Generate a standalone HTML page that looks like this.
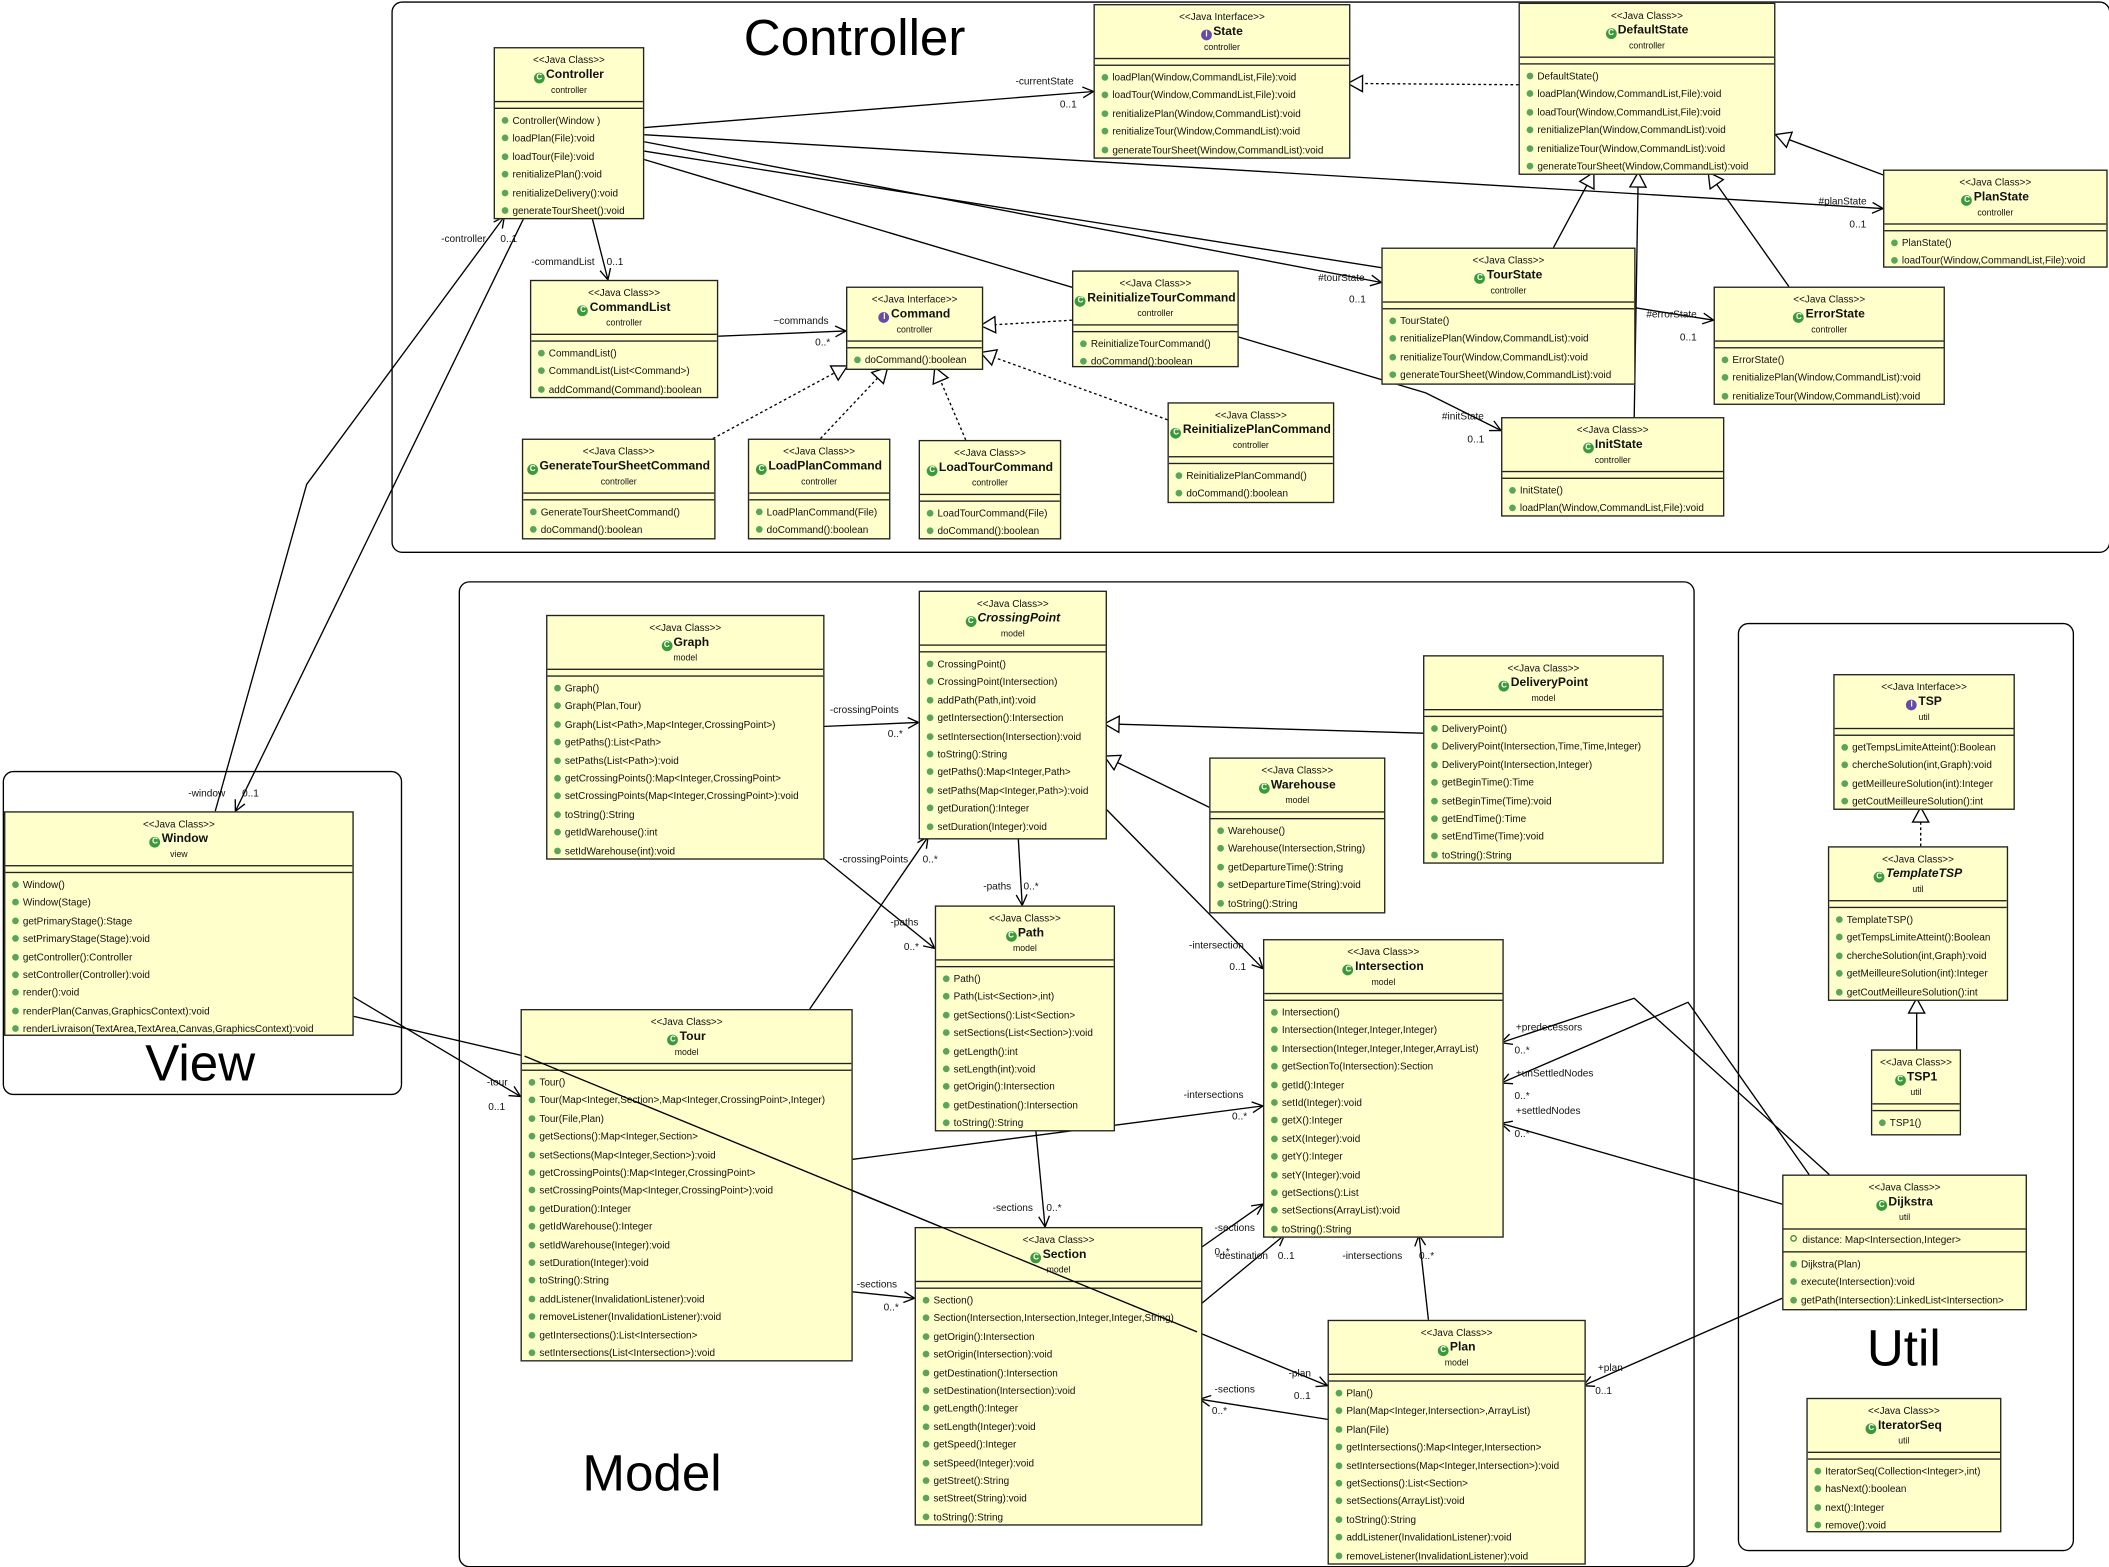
<!DOCTYPE html>
<html><head><meta charset="utf-8"><style>
html,body{margin:0;padding:0;background:#fff;overflow:hidden}
#w{position:absolute;left:0;top:0;width:1568px;height:1164px;transform:scale(1.34503,1.34536);transform-origin:0 0;font-family:"Liberation Sans",sans-serif}
.pk{position:absolute;border:1.3px solid #000;border-radius:8px;background:#fff}
.pl{position:absolute;font-size:38px;color:#000}
svg{position:absolute;left:0;top:0}
.c{position:absolute;background:#ffffcc;border:1px solid #222;font-size:7.4px;color:#111;overflow:hidden;white-space:nowrap}
.h{height:40px;text-align:center;border-bottom:1px solid #222;box-sizing:border-box;padding-top:3px;line-height:11px}
.h .n{font-size:9px;font-weight:bold}
.h .n.it{font-style:italic}
.h i{display:inline-block;width:8px;height:8px;border-radius:50%;background:#3a9a3a;color:#fff;font-size:6px;line-height:8px;font-style:normal;vertical-align:-1px;margin-right:1px}
.h i.f{background:#6a4aa8}
.h .p{font-size:6.5px}
.a{height:4px;border-bottom:1px solid #222}
.at{border-bottom:1px solid #222;padding:2px 0 2px 5px;line-height:12px}
.at div:before{content:"";display:inline-block;width:3px;height:3px;border:1px solid #3a8a3a;border-radius:50%;margin-right:4px;vertical-align:1px}
.m{padding:2px 0 0 5px;line-height:13.4px}
.m div:before{content:"";display:inline-block;width:5px;height:5px;border-radius:50%;background:#5aa55a;margin-right:3px;vertical-align:0}
.lb{font-size:7.5px;font-family:"Liberation Sans",sans-serif;fill:#111}
</style></head><body><div id="w">

<div class="pk" style="left:291px;top:1px;width:1276px;height:408px"></div>
<div class="pl" style="left:553px;top:8px">Controller</div>
<div class="pk" style="left:2px;top:573px;width:295px;height:239px"></div>
<div class="pl" style="left:108px;top:770px">View</div>
<div class="pk" style="left:341px;top:432px;width:917px;height:731px"></div>
<div class="pl" style="left:433px;top:1075px">Model</div>
<div class="pk" style="left:1292px;top:463px;width:248px;height:688px"></div>
<div class="pl" style="left:1388px;top:982px">Util</div>

<svg width="1568" height="1164" viewBox="0 0 1568 1164">
<defs>
<marker id="o" markerWidth="10" markerHeight="10" refX="9" refY="5" orient="auto" markerUnits="userSpaceOnUse"><path d="M1,1 L9,5 L1,9" fill="none" stroke="#000" stroke-width="1"/></marker>
<marker id="t" markerWidth="14" markerHeight="14" refX="12" refY="7" orient="auto" markerUnits="userSpaceOnUse"><path d="M1,1 L12,7 L1,13 Z" fill="#fff" stroke="#000" stroke-width="1"/></marker>
</defs>
<g stroke="#000" stroke-width="1" fill="none">
<line x1="477" y1="95" x2="813" y2="68" marker-end="url(#o)"/>
<line x1="477" y1="100" x2="1400" y2="155" marker-end="url(#o)"/>
<line x1="477" y1="105" x2="1027" y2="210" marker-end="url(#o)"/>
<line x1="477" y1="112" x2="1274" y2="238" marker-end="url(#o)"/>
<polyline points="477,118 1060,292 1116,320" marker-end="url(#o)"/>
<line x1="440" y1="161" x2="452" y2="208" marker-end="url(#o)"/>
<line x1="532" y1="250" x2="629" y2="246" marker-end="url(#o)"/>
<line x1="390" y1="161" x2="175" y2="603" marker-end="url(#o)"/>
<polyline points="160,603 228,360 375,161" marker-end="url(#o)"/>
<line x1="1129" y1="63" x2="1002" y2="62" stroke-dasharray="2,2" marker-end="url(#t)"/>
<line x1="1400" y1="130" x2="1320" y2="100" marker-end="url(#t)"/>
<line x1="1155" y1="184" x2="1185" y2="128" marker-end="url(#t)"/>
<line x1="1330" y1="213" x2="1270" y2="128" marker-end="url(#t)"/>
<line x1="1215" y1="310" x2="1218" y2="128" marker-end="url(#t)"/>
<line x1="797" y1="238" x2="729" y2="242" stroke-dasharray="2,2" marker-end="url(#t)"/>
<line x1="868" y1="312" x2="729" y2="262" stroke-dasharray="2,2" marker-end="url(#t)"/>
<line x1="530" y1="326" x2="630" y2="272" stroke-dasharray="2,2" marker-end="url(#t)"/>
<line x1="610" y1="326" x2="660" y2="273" stroke-dasharray="2,2" marker-end="url(#t)"/>
<line x1="718" y1="327" x2="695" y2="273" stroke-dasharray="2,2" marker-end="url(#t)"/>
<line x1="261" y1="740" x2="387" y2="815" marker-end="url(#o)"/>
<polyline points="261,755 390,785 890,990 987,1030" marker-end="url(#o)"/>
<line x1="611" y1="540" x2="683" y2="537" marker-end="url(#o)"/>
<line x1="611" y1="637" x2="695" y2="705" marker-end="url(#o)"/>
<line x1="602" y1="750" x2="690" y2="622" marker-end="url(#o)"/>
<line x1="757" y1="622" x2="760" y2="673" marker-end="url(#o)"/>
<line x1="821" y1="600" x2="939" y2="720" marker-end="url(#o)"/>
<line x1="899" y1="600" x2="821" y2="562" marker-end="url(#t)"/>
<line x1="1058" y1="545" x2="821" y2="538" marker-end="url(#t)"/>
<line x1="770" y1="839" x2="777" y2="912" marker-end="url(#o)"/>
<line x1="632" y1="862" x2="939" y2="822" marker-end="url(#o)"/>
<line x1="632" y1="960" x2="680" y2="965" marker-end="url(#o)"/>
<line x1="892" y1="928" x2="939" y2="895" marker-end="url(#o)"/>
<line x1="892" y1="970" x2="955" y2="918" marker-end="url(#o)"/>
<line x1="1062" y1="981" x2="1055" y2="918" marker-end="url(#o)"/>
<line x1="987" y1="1055" x2="892" y2="1040" marker-end="url(#o)"/>
<polyline points="1360,873 1215,742 1116,775" marker-end="url(#o)"/>
<polyline points="1345,873 1255,745 1116,805" marker-end="url(#o)"/>
<line x1="1325" y1="895" x2="1116" y2="835" marker-end="url(#o)"/>
<line x1="1325" y1="965" x2="1177" y2="1030" marker-end="url(#o)"/>
<line x1="1428" y1="629" x2="1428" y2="600" stroke-dasharray="2,2" marker-end="url(#t)"/>
<line x1="1425" y1="780" x2="1425" y2="742" marker-end="url(#t)"/>
</g>
<g class="lb">
<text x="755" y="63">-currentState</text><text x="788" y="80">0..1</text>
<text x="1352" y="152">#planState</text><text x="1375" y="169">0..1</text>
<text x="980" y="209">#tourState</text><text x="1003" y="225">0..1</text>
<text x="1224" y="236">#errorState</text><text x="1249" y="253">0..1</text>
<text x="1072" y="312">#initState</text><text x="1091" y="329">0..1</text>
<text x="395" y="197">-commandList</text><text x="451" y="197">0..1</text>
<text x="575" y="241">~commands</text><text x="606" y="257">0..*</text>
<text x="328" y="180">-controller</text><text x="372" y="180">0..1</text>
<text x="140" y="592">-window</text><text x="180" y="592">0..1</text>
<text x="362" y="807">-tour</text><text x="363" y="825">0..1</text>
<text x="617" y="530">-crossingPoints</text><text x="660" y="548">0..*</text>
<text x="624" y="641">-crossingPoints</text><text x="686" y="641">0..*</text>
<text x="662" y="688">-paths</text><text x="672" y="706">0..*</text>
<text x="731" y="661">-paths</text><text x="761" y="661">0..*</text>
<text x="884" y="705">-intersection</text><text x="914" y="721">0..1</text>
<text x="738" y="900">-sections</text><text x="778" y="900">0..*</text>
<text x="880" y="816">-intersections</text><text x="916" y="832">0..*</text>
<text x="637" y="957">-sections</text><text x="657" y="974">0..*</text>
<text x="903" y="915">-sections</text><text x="903" y="933">0..*</text>
<text x="904" y="936">-destination</text><text x="950" y="936">0..1</text>
<text x="998" y="936">-intersections</text><text x="1055" y="936">0..*</text>
<text x="903" y="1035">-sections</text><text x="901" y="1051">0..*</text>
<text x="958" y="1023">-plan</text><text x="962" y="1040">0..1</text>
<text x="1127" y="766">+predecessors</text><text x="1126" y="783">0..*</text>
<text x="1127" y="800">+unSettledNodes</text><text x="1126" y="817">0..*</text>
<text x="1127" y="828">+settledNodes</text><text x="1126" y="845">0..*</text>
<text x="1188" y="1019">+plan</text><text x="1186" y="1036">0..1</text>
</g>
</svg>

<div class="c" style="left:367px;top:35px;width:110px;height:126px"><div class="h"><div>&lt;&lt;Java Class&gt;&gt;</div><div class="n"><i>C</i>Controller</div><div class="p">controller</div></div><div class="a"></div><div class="m"><div>Controller(Window )</div><div>loadPlan(File):void</div><div>loadTour(File):void</div><div>renitializePlan():void</div><div>renitializeDelivery():void</div><div>generateTourSheet():void</div></div></div>

<div class="c" style="left:813px;top:3px;width:189px;height:113px"><div class="h"><div>&lt;&lt;Java Interface&gt;&gt;</div><div class="n"><i class="f">I</i>State</div><div class="p">controller</div></div><div class="a"></div><div class="m"><div>loadPlan(Window,CommandList,File):void</div><div>loadTour(Window,CommandList,File):void</div><div>renitializePlan(Window,CommandList):void</div><div>renitializeTour(Window,CommandList):void</div><div>generateTourSheet(Window,CommandList):void</div></div></div>

<div class="c" style="left:1129px;top:2px;width:189px;height:126px"><div class="h"><div>&lt;&lt;Java Class&gt;&gt;</div><div class="n"><i>C</i>DefaultState</div><div class="p">controller</div></div><div class="a"></div><div class="m"><div>DefaultState()</div><div>loadPlan(Window,CommandList,File):void</div><div>loadTour(Window,CommandList,File):void</div><div>renitializePlan(Window,CommandList):void</div><div>renitializeTour(Window,CommandList):void</div><div>generateTourSheet(Window,CommandList):void</div></div></div>

<div class="c" style="left:1400px;top:126px;width:165px;height:71px"><div class="h"><div>&lt;&lt;Java Class&gt;&gt;</div><div class="n"><i>C</i>PlanState</div><div class="p">controller</div></div><div class="a"></div><div class="m"><div>PlanState()</div><div>loadTour(Window,CommandList,File):void</div></div></div>

<div class="c" style="left:1027px;top:184px;width:187px;height:100px"><div class="h"><div>&lt;&lt;Java Class&gt;&gt;</div><div class="n"><i>C</i>TourState</div><div class="p">controller</div></div><div class="a"></div><div class="m"><div>TourState()</div><div>renitializePlan(Window,CommandList):void</div><div>renitializeTour(Window,CommandList):void</div><div>generateTourSheet(Window,CommandList):void</div></div></div>

<div class="c" style="left:1274px;top:213px;width:170px;height:86px"><div class="h"><div>&lt;&lt;Java Class&gt;&gt;</div><div class="n"><i>C</i>ErrorState</div><div class="p">controller</div></div><div class="a"></div><div class="m"><div>ErrorState()</div><div>renitializePlan(Window,CommandList):void</div><div>renitializeTour(Window,CommandList):void</div></div></div>

<div class="c" style="left:1116px;top:310px;width:164px;height:72px"><div class="h"><div>&lt;&lt;Java Class&gt;&gt;</div><div class="n"><i>C</i>InitState</div><div class="p">controller</div></div><div class="a"></div><div class="m"><div>InitState()</div><div>loadPlan(Window,CommandList,File):void</div></div></div>

<div class="c" style="left:394px;top:208px;width:138px;height:86px"><div class="h"><div>&lt;&lt;Java Class&gt;&gt;</div><div class="n"><i>C</i>CommandList</div><div class="p">controller</div></div><div class="a"></div><div class="m"><div>CommandList()</div><div>CommandList(List&lt;Command&gt;)</div><div>addCommand(Command):boolean</div></div></div>

<div class="c" style="left:629px;top:213px;width:100px;height:60px"><div class="h"><div>&lt;&lt;Java Interface&gt;&gt;</div><div class="n"><i class="f">I</i>Command</div><div class="p">controller</div></div><div class="a"></div><div class="m"><div>doCommand():boolean</div></div></div>

<div class="c" style="left:797px;top:201px;width:122px;height:70px"><div class="h"><div>&lt;&lt;Java Class&gt;&gt;</div><div class="n"><i>C</i>ReinitializeTourCommand</div><div class="p">controller</div></div><div class="a"></div><div class="m"><div>ReinitializeTourCommand()</div><div>doCommand():boolean</div></div></div>

<div class="c" style="left:868px;top:299px;width:122px;height:73px"><div class="h"><div>&lt;&lt;Java Class&gt;&gt;</div><div class="n"><i>C</i>ReinitializePlanCommand</div><div class="p">controller</div></div><div class="a"></div><div class="m"><div>ReinitializePlanCommand()</div><div>doCommand():boolean</div></div></div>

<div class="c" style="left:388px;top:326px;width:142px;height:73px"><div class="h"><div>&lt;&lt;Java Class&gt;&gt;</div><div class="n"><i>C</i>GenerateTourSheetCommand</div><div class="p">controller</div></div><div class="a"></div><div class="m"><div>GenerateTourSheetCommand()</div><div>doCommand():boolean</div></div></div>

<div class="c" style="left:556px;top:326px;width:104px;height:73px"><div class="h"><div>&lt;&lt;Java Class&gt;&gt;</div><div class="n"><i>C</i>LoadPlanCommand</div><div class="p">controller</div></div><div class="a"></div><div class="m"><div>LoadPlanCommand(File)</div><div>doCommand():boolean</div></div></div>

<div class="c" style="left:683px;top:327px;width:104px;height:72px"><div class="h"><div>&lt;&lt;Java Class&gt;&gt;</div><div class="n"><i>C</i>LoadTourCommand</div><div class="p">controller</div></div><div class="a"></div><div class="m"><div>LoadTourCommand(File)</div><div>doCommand():boolean</div></div></div>

<div class="c" style="left:3px;top:603px;width:258px;height:165px"><div class="h"><div>&lt;&lt;Java Class&gt;&gt;</div><div class="n"><i>C</i>Window</div><div class="p">view</div></div><div class="a"></div><div class="m"><div>Window()</div><div>Window(Stage)</div><div>getPrimaryStage():Stage</div><div>setPrimaryStage(Stage):void</div><div>getController():Controller</div><div>setController(Controller):void</div><div>render():void</div><div>renderPlan(Canvas,GraphicsContext):void</div><div>renderLivraison(TextArea,TextArea,Canvas,GraphicsContext):void</div></div></div>

<div class="c" style="left:406px;top:457px;width:205px;height:180px"><div class="h"><div>&lt;&lt;Java Class&gt;&gt;</div><div class="n"><i>C</i>Graph</div><div class="p">model</div></div><div class="a"></div><div class="m"><div>Graph()</div><div>Graph(Plan,Tour)</div><div>Graph(List&lt;Path&gt;,Map&lt;Integer,CrossingPoint&gt;)</div><div>getPaths():List&lt;Path&gt;</div><div>setPaths(List&lt;Path&gt;):void</div><div>getCrossingPoints():Map&lt;Integer,CrossingPoint&gt;</div><div>setCrossingPoints(Map&lt;Integer,CrossingPoint&gt;):void</div><div>toString():String</div><div>getIdWarehouse():int</div><div>setIdWarehouse(int):void</div></div></div>

<div class="c" style="left:683px;top:439px;width:138px;height:183px"><div class="h"><div>&lt;&lt;Java Class&gt;&gt;</div><div class="n it"><i>C</i>CrossingPoint</div><div class="p">model</div></div><div class="a"></div><div class="m"><div>CrossingPoint()</div><div>CrossingPoint(Intersection)</div><div>addPath(Path,int):void</div><div>getIntersection():Intersection</div><div>setIntersection(Intersection):void</div><div>toString():String</div><div>getPaths():Map&lt;Integer,Path&gt;</div><div>setPaths(Map&lt;Integer,Path&gt;):void</div><div>getDuration():Integer</div><div>setDuration(Integer):void</div></div></div>

<div class="c" style="left:1058px;top:487px;width:177px;height:153px"><div class="h"><div>&lt;&lt;Java Class&gt;&gt;</div><div class="n"><i>C</i>DeliveryPoint</div><div class="p">model</div></div><div class="a"></div><div class="m"><div>DeliveryPoint()</div><div>DeliveryPoint(Intersection,Time,Time,Integer)</div><div>DeliveryPoint(Intersection,Integer)</div><div>getBeginTime():Time</div><div>setBeginTime(Time):void</div><div>getEndTime():Time</div><div>setEndTime(Time):void</div><div>toString():String</div></div></div>

<div class="c" style="left:899px;top:563px;width:129px;height:114px"><div class="h"><div>&lt;&lt;Java Class&gt;&gt;</div><div class="n"><i>C</i>Warehouse</div><div class="p">model</div></div><div class="a"></div><div class="m"><div>Warehouse()</div><div>Warehouse(Intersection,String)</div><div>getDepartureTime():String</div><div>setDepartureTime(String):void</div><div>toString():String</div></div></div>

<div class="c" style="left:695px;top:673px;width:132px;height:166px"><div class="h"><div>&lt;&lt;Java Class&gt;&gt;</div><div class="n"><i>C</i>Path</div><div class="p">model</div></div><div class="a"></div><div class="m"><div>Path()</div><div>Path(List&lt;Section&gt;,int)</div><div>getSections():List&lt;Section&gt;</div><div>setSections(List&lt;Section&gt;):void</div><div>getLength():int</div><div>setLength(int):void</div><div>getOrigin():Intersection</div><div>getDestination():Intersection</div><div>toString():String</div></div></div>

<div class="c" style="left:939px;top:698px;width:177px;height:220px"><div class="h"><div>&lt;&lt;Java Class&gt;&gt;</div><div class="n"><i>C</i>Intersection</div><div class="p">model</div></div><div class="a"></div><div class="m"><div>Intersection()</div><div>Intersection(Integer,Integer,Integer)</div><div>Intersection(Integer,Integer,Integer,ArrayList)</div><div>getSectionTo(Intersection):Section</div><div>getId():Integer</div><div>setId(Integer):void</div><div>getX():Integer</div><div>setX(Integer):void</div><div>getY():Integer</div><div>setY(Integer):void</div><div>getSections():List</div><div>setSections(ArrayList):void</div><div>toString():String</div></div></div>

<div class="c" style="left:387px;top:750px;width:245px;height:260px"><div class="h"><div>&lt;&lt;Java Class&gt;&gt;</div><div class="n"><i>C</i>Tour</div><div class="p">model</div></div><div class="a"></div><div class="m"><div>Tour()</div><div>Tour(Map&lt;Integer,Section&gt;,Map&lt;Integer,CrossingPoint&gt;,Integer)</div><div>Tour(File,Plan)</div><div>getSections():Map&lt;Integer,Section&gt;</div><div>setSections(Map&lt;Integer,Section&gt;):void</div><div>getCrossingPoints():Map&lt;Integer,CrossingPoint&gt;</div><div>setCrossingPoints(Map&lt;Integer,CrossingPoint&gt;):void</div><div>getDuration():Integer</div><div>getIdWarehouse():Integer</div><div>setIdWarehouse(Integer):void</div><div>setDuration(Integer):void</div><div>toString():String</div><div>addListener(InvalidationListener):void</div><div>removeListener(InvalidationListener):void</div><div>getIntersections():List&lt;Intersection&gt;</div><div>setIntersections(List&lt;Intersection&gt;):void</div></div></div>

<div class="c" style="left:680px;top:912px;width:212px;height:220px"><div class="h"><div>&lt;&lt;Java Class&gt;&gt;</div><div class="n"><i>C</i>Section</div><div class="p">model</div></div><div class="a"></div><div class="m"><div>Section()</div><div>Section(Intersection,Intersection,Integer,Integer,String)</div><div>getOrigin():Intersection</div><div>setOrigin(Intersection):void</div><div>getDestination():Intersection</div><div>setDestination(Intersection):void</div><div>getLength():Integer</div><div>setLength(Integer):void</div><div>getSpeed():Integer</div><div>setSpeed(Integer):void</div><div>getStreet():String</div><div>setStreet(String):void</div><div>toString():String</div></div></div>

<div class="c" style="left:987px;top:981px;width:190px;height:180px"><div class="h"><div>&lt;&lt;Java Class&gt;&gt;</div><div class="n"><i>C</i>Plan</div><div class="p">model</div></div><div class="a"></div><div class="m"><div>Plan()</div><div>Plan(Map&lt;Integer,Intersection&gt;,ArrayList)</div><div>Plan(File)</div><div>getIntersections():Map&lt;Integer,Intersection&gt;</div><div>setIntersections(Map&lt;Integer,Intersection&gt;):void</div><div>getSections():List&lt;Section&gt;</div><div>setSections(ArrayList):void</div><div>toString():String</div><div>addListener(InvalidationListener):void</div><div>removeListener(InvalidationListener):void</div></div></div>

<div class="c" style="left:1363px;top:501px;width:133px;height:99px"><div class="h"><div>&lt;&lt;Java Interface&gt;&gt;</div><div class="n"><i class="f">I</i>TSP</div><div class="p">util</div></div><div class="a"></div><div class="m"><div>getTempsLimiteAtteint():Boolean</div><div>chercheSolution(int,Graph):void</div><div>getMeilleureSolution(int):Integer</div><div>getCoutMeilleureSolution():int</div></div></div>

<div class="c" style="left:1359px;top:629px;width:132px;height:113px"><div class="h"><div>&lt;&lt;Java Class&gt;&gt;</div><div class="n it"><i>C</i>TemplateTSP</div><div class="p">util</div></div><div class="a"></div><div class="m"><div>TemplateTSP()</div><div>getTempsLimiteAtteint():Boolean</div><div>chercheSolution(int,Graph):void</div><div>getMeilleureSolution(int):Integer</div><div>getCoutMeilleureSolution():int</div></div></div>

<div class="c" style="left:1391px;top:780px;width:65px;height:62px"><div class="h"><div>&lt;&lt;Java Class&gt;&gt;</div><div class="n"><i>C</i>TSP1</div><div class="p">util</div></div><div class="a"></div><div class="m"><div>TSP1()</div></div></div>

<div class="c" style="left:1325px;top:873px;width:180px;height:99px"><div class="h"><div>&lt;&lt;Java Class&gt;&gt;</div><div class="n"><i>C</i>Dijkstra</div><div class="p">util</div></div><div class="at"><div>distance: Map&lt;Intersection,Integer&gt;</div></div><div class="m"><div>Dijkstra(Plan)</div><div>execute(Intersection):void</div><div>getPath(Intersection):LinkedList&lt;Intersection&gt;</div></div></div>

<div class="c" style="left:1343px;top:1039px;width:143px;height:98px"><div class="h"><div>&lt;&lt;Java Class&gt;&gt;</div><div class="n"><i>C</i>IteratorSeq</div><div class="p">util</div></div><div class="a"></div><div class="m"><div>IteratorSeq(Collection&lt;Integer&gt;,int)</div><div>hasNext():boolean</div><div>next():Integer</div><div>remove():void</div></div></div>

<svg width="1568" height="1164" viewBox="0 0 1568 1164" style="pointer-events:none">
<g stroke="#000" stroke-width="1" fill="none">
<polyline points="390,785 890,990"/>
</g>
</svg>

</div></body></html>
